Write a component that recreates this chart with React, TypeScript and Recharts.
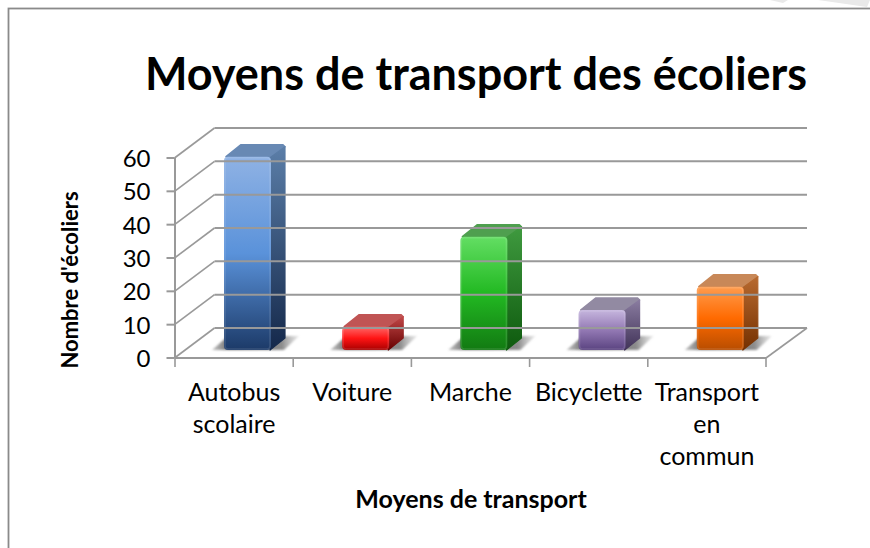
import React from "react";
import { BarChart, Bar, XAxis, YAxis, Cell } from "recharts";

const categories = ["Autobus scolaire", "Voiture", "Marche", "Bicyclette", "Transport en commun"];
const categoryLines = [["Autobus", "scolaire"], ["Voiture"], ["Marche"], ["Bicyclette"], ["Transport", "en", "commun"]];
const pupils = [58, 7, 34, 12, 19];
const valueTicks = [0, 10, 20, 30, 40, 50, 60];
const titleText = "Moyens de transport des écoliers";
const xTitle = "Moyens de transport";
const yTitle = "Nombre d'écoliers";

// front gradient top/mid/bottom, side top/bottom, top face
const palette = [
  ["#8fb2e4", "#5a92da", "#1c3a68", "#5b7ea8", "#14284a", "#6889b4"],
  ["#ff6a6a", "#ff1414", "#a80000", "#c04848", "#660000", "#c05454"],
  ["#63de63", "#22b922", "#127a12", "#3f9a3f", "#0e5a0e", "#4f9f4f"],
  ["#c6b6de", "#9379b4", "#5a4380", "#8a7ca0", "#413358", "#928aa2"],
  ["#ff9c4e", "#ff6a00", "#b84d00", "#b86a30", "#743000", "#c88858"],
];

const GRID = "#999999";
const FONT = "Lato, Carlito, sans-serif";
const DX = 40;
const DY = -30;
const PLOT_LEFT = 175;
const PLOT_TOP = 158;
const PLOT_W = 591;
const PLOT_H = 200;
const BAND = PLOT_W / categories.length;
const BAR_W = 47;
const BAR_SHIFT_X = 13;
const BAR_SHIFT_Y = -8;
const SIDE_X = 14;
const SIDE_Y = -12;

const YTick = (p: any) => {
  const { y, payload } = p;
  const x = PLOT_LEFT - 0.5;
  const right = PLOT_LEFT + PLOT_W + DX + 1;
  return (
    <g>
      <line x1={x - 8} x2={x} y1={y} y2={y} stroke={GRID} strokeWidth={2} />
      <line x1={x} x2={x + DX} y1={y} y2={y + DY} stroke={GRID} strokeWidth={1.6} />
      <line x1={x + DX} x2={right} y1={y + DY} y2={y + DY} stroke={GRID} strokeWidth={2} />
      <text x={x - 24} y={y + 9} textAnchor="end" fontFamily={FONT} fontSize={24} fill="#000">
        {payload.value}
      </text>
    </g>
  );
};

const XTick = (p: any) => {
  const { x, index } = p;
  const y = PLOT_TOP + PLOT_H;
  const lines = categoryLines[index] || [];
  const last = index === categories.length - 1;
  return (
    <g>
      <line x1={x - BAND / 2} x2={x - BAND / 2} y1={y} y2={y + 9} stroke={GRID} strokeWidth={1.6} />
      {last && (
        <>
          <line x1={x + BAND / 2} x2={x + BAND / 2} y1={y} y2={y + 9} stroke={GRID} strokeWidth={1.6} />
          <line x1={x + BAND / 2} x2={x + BAND / 2 + DX + 1} y1={y} y2={y + DY} stroke={GRID} strokeWidth={1.6} />
        </>
      )}
      {lines.map((t, i) => (
        <text key={t} x={x} y={y + 43 + i * 32} textAnchor="middle" fontFamily={FONT} fontSize={25} fill="#000">
          {t}
        </text>
      ))}
    </g>
  );
};

const Bar3D = (p: any) => {
  const { x, y, width, height, index } = p;
  const c = palette[index];
  const l = x + BAR_SHIFT_X;
  const t = y + BAR_SHIFT_Y;
  const r = l + width;
  const b = t + height;
  const id = `b${index}`;
  return (
    <g>
      <defs>
        <linearGradient id={`${id}f`} x1="0" y1="0" x2="0" y2="1">
          <stop offset="0" stopColor={c[0]} />
          <stop offset="0.5" stopColor={c[1]} />
          <stop offset="1" stopColor={c[2]} />
        </linearGradient>
        <linearGradient id={`${id}s`} x1="0" y1="0" x2="0" y2="1">
          <stop offset="0" stopColor={c[3]} />
          <stop offset="1" stopColor={c[4]} />
        </linearGradient>
        <linearGradient id={`${id}h`} x1="0" y1="0" x2="1" y2="0">
          <stop offset="0" stopColor="#999" stopOpacity="0.6" />
          <stop offset="0.2" stopColor="#555" stopOpacity="0.9" />
          <stop offset="0.8" stopColor="#777" stopOpacity="0.85" />
          <stop offset="1" stopColor="#bbb" stopOpacity="0.35" />
        </linearGradient>
        <filter id={`${id}b`} x="-20%" y="-40%" width="140%" height="180%">
          <feGaussianBlur stdDeviation="1.3" />
        </filter>
      </defs>
      <polygon
        points={`${l - 12},${b} ${l + 4},${b - 14} ${r + 28},${b - 14} ${r + 13},${b}`}
        fill={`url(#${id}h)`}
        filter={`url(#${id}b)`}
      />
      <polygon
        points={`${r - 2},${t + 2} ${l + 2},${t} ${l + SIDE_X + 3},${t + SIDE_Y} ${r + SIDE_X - 2},${t + SIDE_Y} ${r + SIDE_X},${t + SIDE_Y + 2}`}
        fill={c[5]}
        stroke={c[5]}
        strokeWidth={1.5}
        strokeLinejoin="round"
      />
      <polygon
        points={`${r - 1},${t + 1} ${r + SIDE_X},${t + SIDE_Y + 2} ${r + SIDE_X},${b + SIDE_Y} ${r - 1},${b}`}
        fill={`url(#${id}s)`}
        stroke={`url(#${id}s)`}
        strokeWidth={1.2}
        strokeLinejoin="round"
      />
      <rect x={l} y={t} width={width} height={height} rx={4} fill={`url(#${id}f)`} />
      <rect x={l + 1} y={t + 1} width={width - 2} height={height - 2} rx={3} fill="none" stroke="#fff" strokeOpacity={0.12} strokeWidth={1.5} />
    </g>
  );
};

export default function App() {
  const data = categories.map((name, i) => ({ name, value: pupils[i] }));
  return (
    <div style={{ position: "absolute", left: 0, top: 0, width: 870, height: 548, background: "#fff" }}>
      <BarChart
        width={870}
        height={548}
        data={data}
        barSize={BAR_W}
        margin={{ top: PLOT_TOP, left: 0, right: 870 - PLOT_LEFT - PLOT_W, bottom: 0 }}
      >
        <polygon points="770,0 788,0 783,3" fill="#e9e9e9" />
        <polygon points="818,0 870,0 867,7" fill="#e9e9e9" />
        <rect x={8.5} y={8.5} width={880} height={560} fill="none" stroke="#8a8a8a" strokeWidth={1.8} />
        <text x={476} y={90} textAnchor="middle" fontFamily={FONT} fontWeight={700} fontSize={45} fill="#000">
          {titleText}
        </text>
        <text x={471} y={508} textAnchor="middle" fontFamily={FONT} fontWeight={700} fontSize={25} fill="#000">
          {xTitle}
        </text>
        <text
          transform="translate(78,280) rotate(-90)"
          textAnchor="middle"
          fontFamily={FONT}
          fontWeight={700}
          fontSize={22}
          fill="#000"
        >
          {yTitle}
        </text>
        <YAxis
          width={PLOT_LEFT}
          domain={[0, 60]}
          ticks={valueTicks}
          tick={YTick}
          tickLine={false}
          axisLine={{ stroke: GRID, strokeWidth: 2 }}
        />
        <XAxis
          dataKey="name"
          height={548 - PLOT_TOP - PLOT_H}
          interval={0}
          tick={XTick}
          tickLine={false}
          axisLine={{ stroke: GRID, strokeWidth: 2 }}
        />
        <Bar dataKey="value" isAnimationActive={false} shape={Bar3D}>
          {data.map((d) => (
            <Cell key={d.name} />
          ))}
        </Bar>
      </BarChart>
    </div>
  );
}
